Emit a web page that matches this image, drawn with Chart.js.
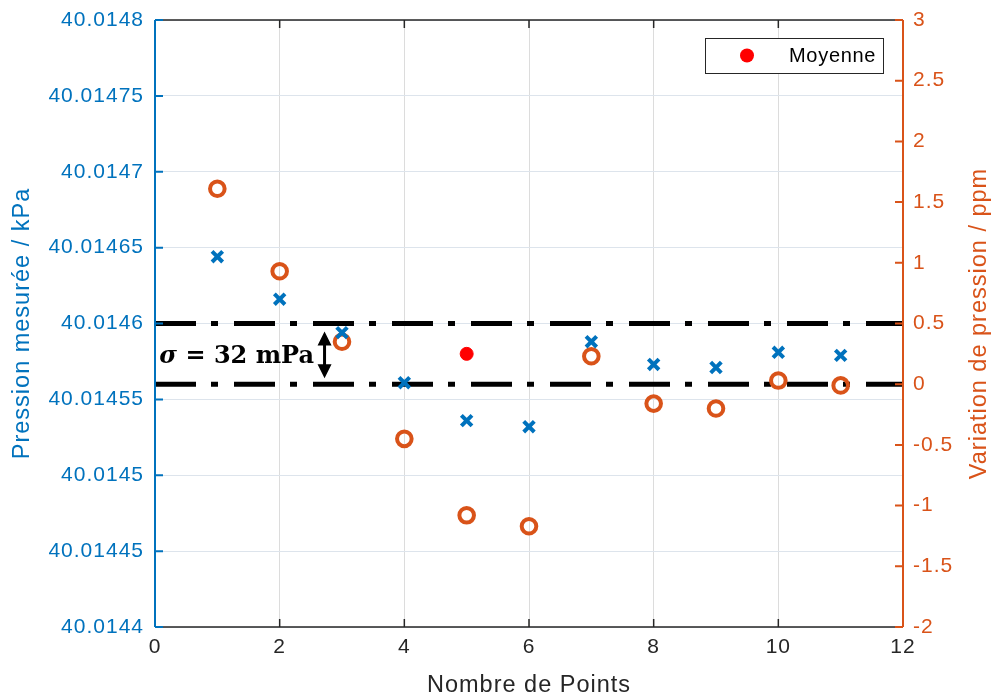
<!DOCTYPE html>
<html>
<head>
<meta charset="utf-8">
<script src="https://cdn.jsdelivr.net/npm/chart.js@4.4.0/dist/chart.umd.min.js"></script>
<style>
  html, body { margin: 0; padding: 0; background: #fff; }
  #wrap { width: 991px; height: 700px; }
</style>
</head>
<body>
<div id="wrap"><canvas id="graphe" width="991" height="700"></canvas></div>
<script>
// Données
const points = [1, 2, 3, 4, 5, 6, 7, 8, 9, 10, 11];
const pression = [40.014644, 40.014616, 40.014594, 40.014561, 40.014536, 40.014532,
                  40.014588, 40.014573, 40.014571, 40.014581, 40.014579];
const variation = [1.61, 0.93, 0.35, -0.45, -1.08, -1.17, 0.23, -0.16, -0.20, 0.03, -0.01];
const moyenneX = 5;
const moyenneY = 40.01458;
const bandeHaut = 40.0146;
const bandeBas = 40.01456;
const xMin = 0, xMax = 12;
const xTicks = [0, 2, 4, 6, 8, 10, 12];
const leftTickLabels = ['40.0144', '40.01445', '40.0145', '40.01455', '40.0146',
                        '40.01465', '40.0147', '40.01475', '40.0148'];
const rightTickLabels = ['-2', '-1.5', '-1', '-0.5', '0', '0.5', '1', '1.5', '2', '2.5', '3'];
const leftTicks = leftTickLabels.map(Number);
const rightTicks = rightTickLabels.map(Number);

const BLEU = '#0072BD';
const ORANGE = '#D95319';
const GRIS = '#262626';
const POLICE = "'Liberation Sans', Arial, sans-serif";

// Axes, légende et annotation dessinés à la main (style MATLAB)
const habillage = {
  id: 'habillage',
  beforeDraw(chart) {
    chart.ctx.letterSpacing = '1px';
  },
  afterDraw(chart) {
    const ctx = chart.ctx;
    const a = chart.chartArea;
    const sx = chart.scales.x, sy = chart.scales.y, sy1 = chart.scales.y1;
    ctx.save();

    // cadre
    ctx.lineWidth = 1.5;
    ctx.strokeStyle = GRIS;
    ctx.beginPath();
    ctx.moveTo(a.left, a.bottom); ctx.lineTo(a.right, a.bottom);
    ctx.moveTo(a.left, a.top); ctx.lineTo(a.right, a.top);
    xTicks.forEach(v => {
      const px = sx.getPixelForValue(v);
      ctx.moveTo(px, a.bottom); ctx.lineTo(px, a.bottom - 8);
      ctx.moveTo(px, a.top); ctx.lineTo(px, a.top + 8);
    });
    ctx.stroke();

    ctx.lineWidth = 2;
    ctx.strokeStyle = BLEU;
    ctx.beginPath();
    ctx.moveTo(a.left, a.top); ctx.lineTo(a.left, a.bottom);
    leftTicks.forEach(v => {
      const py = sy.getPixelForValue(v);
      ctx.moveTo(a.left, py); ctx.lineTo(a.left + 8, py);
    });
    ctx.stroke();

    ctx.strokeStyle = ORANGE;
    ctx.beginPath();
    ctx.moveTo(a.right, a.top); ctx.lineTo(a.right, a.bottom);
    rightTicks.forEach(v => {
      const py = sy1.getPixelForValue(v);
      ctx.moveTo(a.right, py); ctx.lineTo(a.right - 8, py);
    });
    ctx.stroke();

    // titres des axes
    ctx.font = '23.5px ' + POLICE;
    ctx.letterSpacing = '1px';
    ctx.textAlign = 'center';
    ctx.textBaseline = 'middle';
    ctx.fillStyle = GRIS;
    ctx.fillText('Nombre de Points', (a.left + a.right) / 2, 686);

    const milieu = (a.top + a.bottom) / 2;
    ctx.save();
    ctx.translate(23, milieu);
    ctx.rotate(-Math.PI / 2);
    ctx.fillStyle = BLEU;
    ctx.fillText('Pression mesurée / kPa', 0, 0);
    ctx.restore();

    ctx.save();
    ctx.translate(980, milieu);
    ctx.rotate(-Math.PI / 2);
    ctx.fillStyle = ORANGE;
    ctx.fillText('Variation de pression / ppm', 0, 0);
    ctx.restore();

    // légende
    const lx = a.right - 198, ly = a.top + 18, lw = 178, lh = 35;
    ctx.fillStyle = '#fff';
    ctx.fillRect(lx, ly, lw, lh);
    ctx.lineWidth = 1;
    ctx.strokeStyle = GRIS;
    ctx.strokeRect(lx + 0.5, ly + 0.5, lw, lh);
    ctx.fillStyle = '#FF0000';
    ctx.beginPath();
    ctx.arc(lx + 42, ly + lh / 2, 7, 0, Math.PI * 2);
    ctx.fill();
    ctx.fillStyle = '#000';
    ctx.font = '20px ' + POLICE;
    ctx.letterSpacing = '0.7px';
    ctx.textAlign = 'left';
    ctx.fillText('Moyenne', lx + 84, ly + lh / 2 + 1);

    // annotation sigma
    const yH = sy.getPixelForValue(bandeHaut);
    const yB = sy.getPixelForValue(bandeBas);
    const base = (yH + yB) / 2 + 9;
    let tx = sx.getPixelForValue(0.07);
    ctx.letterSpacing = '0px';
    ctx.textBaseline = 'alphabetic';
    ctx.fillStyle = '#000';
    ctx.font = "italic bold 24px 'DejaVu Serif', serif";
    ctx.fillText('σ', tx, base);
    tx += ctx.measureText('σ').width;
    ctx.font = "bold 24px 'DejaVu Serif', serif";
    ctx.fillText(' = 32 mPa', tx, base);

    // double flèche
    const fx = sx.getPixelForValue(2.72);
    const fh = yH + 8, fb = yB - 6;
    ctx.lineWidth = 3;
    ctx.strokeStyle = '#000';
    ctx.beginPath();
    ctx.moveTo(fx, fh + 10); ctx.lineTo(fx, fb - 10);
    ctx.stroke();
    ctx.beginPath();
    ctx.moveTo(fx, fh); ctx.lineTo(fx - 7, fh + 14); ctx.lineTo(fx + 7, fh + 14); ctx.closePath();
    ctx.moveTo(fx, fb); ctx.lineTo(fx - 7, fb - 14); ctx.lineTo(fx + 7, fb - 14); ctx.closePath();
    ctx.fill();

    ctx.restore();
  }
};

const ctx = document.getElementById('graphe').getContext('2d');
const graphe = new Chart(ctx, {
  type: 'scatter',
  data: {
    datasets: [
      {
        label: 'Moyenne',
        data: [{ x: moyenneX, y: moyenneY }],
        yAxisID: 'y',
        pointStyle: 'circle',
        pointRadius: 6.5,
        pointBorderWidth: 1,
        backgroundColor: '#FF0000',
        borderColor: '#FF0000',
        order: 0
      },
      {
        label: 'Pression',
        data: points.map((x, i) => ({ x: x, y: pression[i] })),
        yAxisID: 'y',
        pointStyle: 'crossRot',
        pointRadius: 7.5,
        pointBorderWidth: 4,
        borderColor: BLEU,
        backgroundColor: BLEU,
        order: 1
      },
      {
        label: 'Variation',
        data: points.map((x, i) => ({ x: x, y: variation[i] })),
        yAxisID: 'y1',
        pointStyle: 'circle',
        pointRadius: 7.3,
        pointBorderWidth: 4,
        borderColor: ORANGE,
        backgroundColor: 'rgba(0,0,0,0)',
        order: 2
      },
      {
        label: 'haut',
        data: [{ x: xMin, y: bandeHaut }, { x: xMax, y: bandeHaut }],
        yAxisID: 'y',
        showLine: true,
        pointRadius: 0,
        borderColor: '#000',
        borderWidth: 5,
        borderCapStyle: 'butt',
        borderDash: [41, 15, 7, 16],
        order: 3
      },
      {
        label: 'bas',
        data: [{ x: xMin, y: bandeBas }, { x: xMax, y: bandeBas }],
        yAxisID: 'y',
        showLine: true,
        pointRadius: 0,
        borderColor: '#000',
        borderWidth: 5,
        borderCapStyle: 'butt',
        borderDash: [41, 15, 7, 16],
        order: 3
      }
    ]
  },
  options: {
    responsive: false,
    animation: false,
    layout: { padding: { top: 20, left: 0, right: 0, bottom: 0 } },
    plugins: {
      legend: { display: false },
      tooltip: { enabled: false }
    },
    scales: {
      x: {
        type: 'linear',
        min: xMin,
        max: xMax,
        afterBuildTicks: s => { s.ticks = xTicks.map(v => ({ value: v })); },
        afterFit: s => { s.height = 73; s.paddingLeft = 0; s.paddingRight = 0; },
        grid: { color: '#dcdcdc', lineWidth: 1, drawTicks: false },
        border: { display: false },
        ticks: {
          padding: 8,
          color: GRIS,
          font: { family: POLICE, size: 21 },
          maxRotation: 0,
          callback: v => String(v)
        }
      },
      y: {
        type: 'linear',
        position: 'left',
        min: leftTicks[0],
        max: leftTicks[leftTicks.length - 1],
        afterBuildTicks: s => { s.ticks = leftTicks.map(v => ({ value: v })); },
        afterFit: s => { s.width = 155; s.paddingTop = 0; s.paddingBottom = 0; },
        grid: { color: '#dde4ec', lineWidth: 1, drawTicks: false },
        border: { display: false },
        ticks: {
          padding: 11,
          color: BLEU,
          font: { family: POLICE, size: 21 },
          callback: (v, i) => leftTickLabels[i]
        }
      },
      y1: {
        type: 'linear',
        position: 'right',
        min: rightTicks[0],
        max: rightTicks[rightTicks.length - 1],
        afterBuildTicks: s => { s.ticks = rightTicks.map(v => ({ value: v })); },
        afterFit: s => { s.width = 88; s.paddingTop = 0; s.paddingBottom = 0; },
        grid: { display: false, drawTicks: false },
        border: { display: false },
        ticks: {
          padding: 10,
          color: ORANGE,
          font: { family: POLICE, size: 21 },
          callback: (v, i) => rightTickLabels[i]
        }
      }
    }
  },
  plugins: [habillage]
});
</script>
</body>
</html>
